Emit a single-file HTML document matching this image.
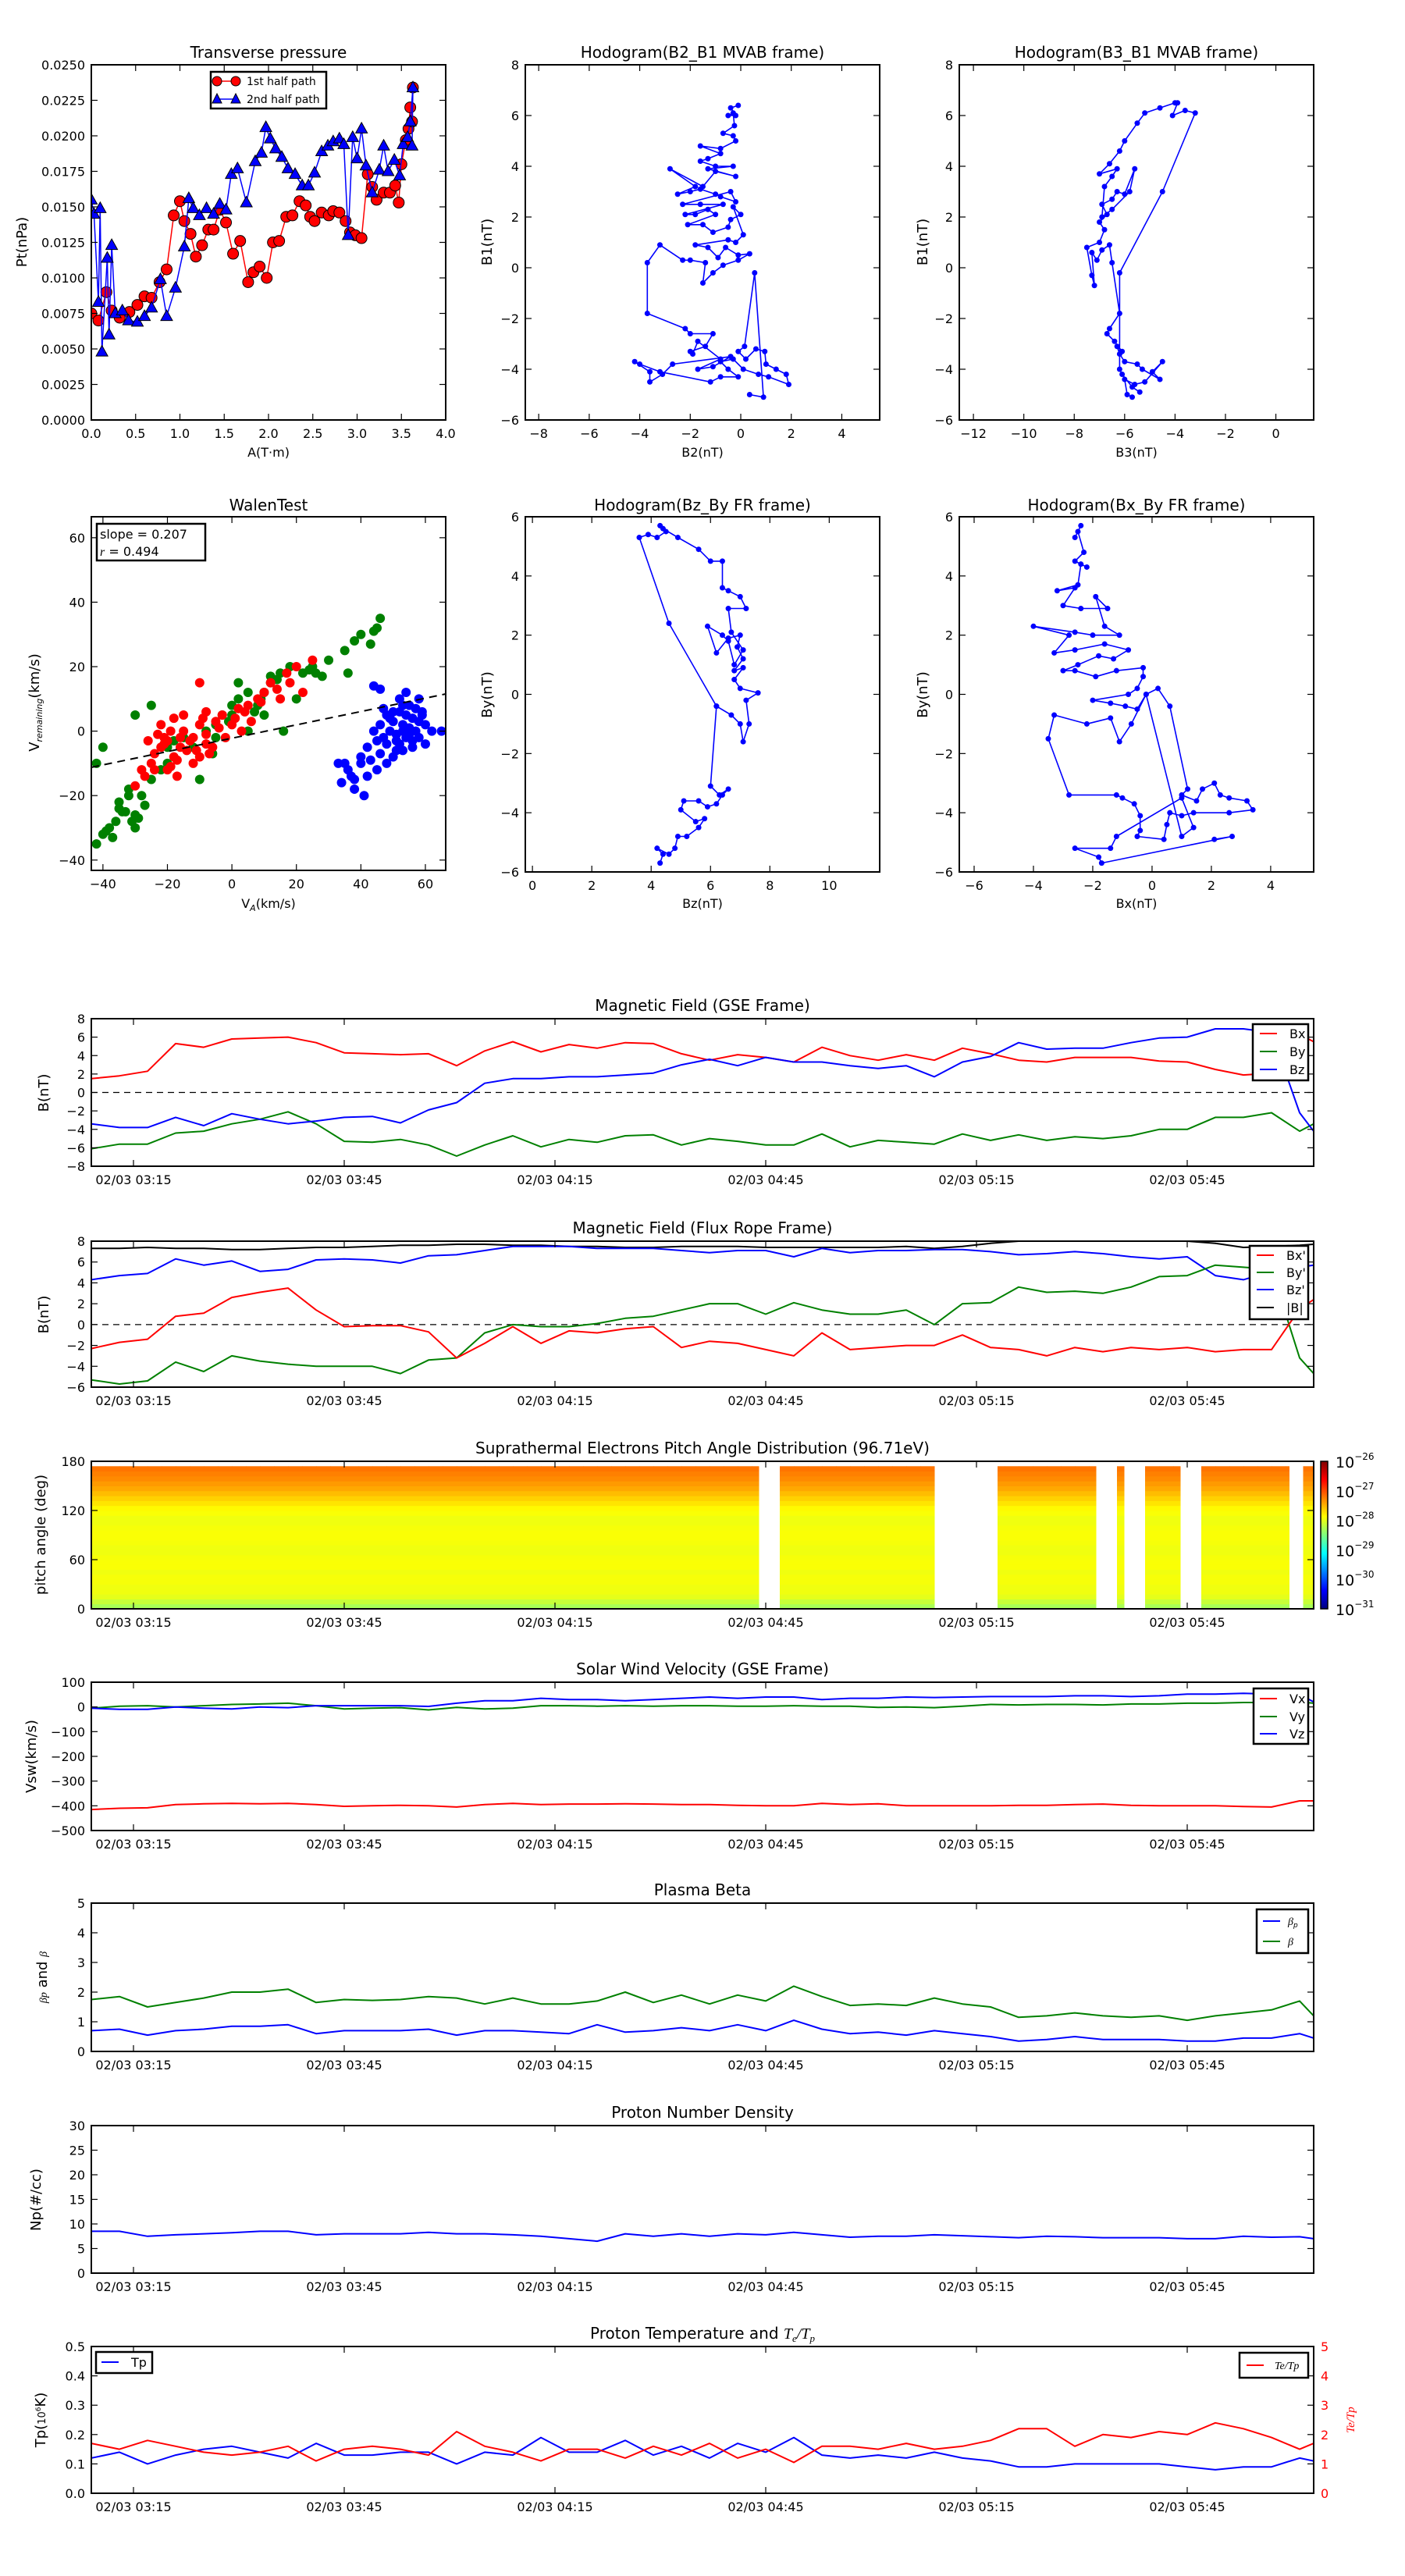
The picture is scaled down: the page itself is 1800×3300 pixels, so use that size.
<!DOCTYPE html>
<html><head><meta charset="utf-8"><title>Flux rope analysis</title>
<style>
html,body{margin:0;padding:0;background:#fff;}
svg{display:block;font-family:"DejaVu Sans","Liberation Sans",sans-serif;}
</style></head>
<body>
<svg id="fig" xmlns="http://www.w3.org/2000/svg" width="1800" height="3300" viewBox="0 0 1800 3300">
<rect x="0" y="0" width="1800" height="3300" fill="#fff"/>
<defs>
<linearGradient id="jetgrad" x1="0" y1="1" x2="0" y2="0">
<stop offset="0" stop-color="#00007f"/><stop offset="0.125" stop-color="#0000ff"/><stop offset="0.375" stop-color="#00ffff"/><stop offset="0.625" stop-color="#ffff00"/><stop offset="0.875" stop-color="#ff0000"/><stop offset="1" stop-color="#7f0000"/>
</linearGradient>
</defs>
</svg>
<script>
// ---------- Transverse pressure data ----------
const tpRedA=[0.0,0.08,0.17,0.23,0.32,0.43,0.52,0.6,0.68,0.77,0.85,0.93,1.0,1.05,1.12,1.18,1.25,1.32,1.38,1.45,1.52,1.6,1.68,1.77,1.83,1.9,1.98,2.05,2.12,2.2,2.27,2.35,2.42,2.47,2.52,2.6,2.68,2.73,2.8,2.87,2.92,2.98,3.05,3.12,3.17,3.22,3.3,3.37,3.43,3.47,3.5,3.55,3.58,3.6,3.62,3.63];
const tpRedP=[0.0075,0.0070,0.0090,0.0077,0.0072,0.0076,0.0081,0.0087,0.0086,0.0097,0.0106,0.0144,0.0154,0.0140,0.0131,0.0115,0.0123,0.0134,0.0134,0.0148,0.0139,0.0117,0.0126,0.0097,0.0104,0.0108,0.0100,0.0125,0.0126,0.0143,0.0144,0.0154,0.0151,0.0143,0.0140,0.0146,0.0144,0.0147,0.0146,0.0140,0.0132,0.0130,0.0128,0.0173,0.0164,0.0155,0.0160,0.0160,0.0165,0.0153,0.0180,0.0197,0.0205,0.0220,0.0210,0.0234];
const tpBlueA=[0.0,0.03,0.08,0.1,0.12,0.18,0.2,0.23,0.27,0.35,0.42,0.52,0.6,0.68,0.78,0.85,0.95,1.05,1.1,1.15,1.22,1.3,1.38,1.45,1.52,1.58,1.65,1.75,1.85,1.92,1.97,2.02,2.08,2.15,2.22,2.3,2.38,2.45,2.52,2.6,2.67,2.73,2.8,2.85,2.9,2.95,3.0,3.05,3.1,3.17,3.25,3.3,3.35,3.42,3.48,3.52,3.57,3.6,3.63,3.62];
const tpBlueP=[0.0155,0.0145,0.0083,0.0149,0.0048,0.0114,0.0060,0.0123,0.0075,0.0077,0.0070,0.0069,0.0073,0.0079,0.0099,0.0073,0.0093,0.0122,0.0156,0.0149,0.0144,0.0149,0.0145,0.0152,0.0148,0.0173,0.0177,0.0153,0.0182,0.0188,0.0206,0.0198,0.0191,0.0185,0.0177,0.0173,0.0165,0.0165,0.0174,0.0189,0.0193,0.0196,0.0198,0.0194,0.0130,0.0199,0.0184,0.0205,0.0179,0.0160,0.0176,0.0193,0.0175,0.0183,0.0172,0.0194,0.0199,0.0210,0.0234,0.0193];
// ---------- Hodogram MVAB ----------
const hB2=[-0.1,-0.4,-0.2,-0.5,-0.3,-0.25,-0.7,-0.3,-0.2,-0.8,-1.6,-0.8,-1.3,-1.6,-1.0,-0.3,-1.3,-0.2,-1.0,-1.5,-2.8,-1.8,-2.5,-2.0,-1.6,-1.0,-0.8,-0.2,-0.4,-2.3,-1.6,-0.7,-2.2,-1.8,-1.3,-1.0,-2.1,-1.5,-1.1,-0.5,-0.4,0.0,-0.3,0.1,-0.2,-0.5,-1.8,-1.3,-0.9,-0.6,-0.1,0.35,-0.1,-0.7,-1.1,-1.5,-1.4,-2.0,-2.3,-3.2,-3.7,-3.7,-2.2,-2.0,-1.1,-1.4,-2.0,-1.9,-1.7,-0.8,-1.7,-1.1,-0.4,-2.7,-3.1,-3.6,-3.6,-4.2,-4.0,-3.2,-1.2,-0.8,-0.1,-0.5,-0.8,-0.3,0.1,0.7,1.1,1.9,1.8,1.4,1.0,0.95,0.6,0.2,-0.1,0.15,0.55,0.9,0.35];
const hB1=[6.4,6.3,6.0,6.0,6.1,5.6,5.3,5.2,5.0,4.7,4.8,4.5,4.3,4.2,4.0,4.0,3.9,3.6,3.8,3.2,3.9,3.2,2.9,3.0,3.1,2.9,2.8,2.6,3.0,2.5,2.5,2.5,2.1,2.1,2.3,2.1,1.7,1.7,1.4,1.6,1.9,2.1,2.4,1.3,1.0,1.1,0.9,0.8,0.4,0.8,0.5,0.55,0.3,0.1,-0.2,-0.6,0.2,0.3,0.3,0.9,0.2,-1.8,-2.4,-2.6,-2.6,-3.1,-3.3,-3.4,-2.9,-3.6,-4.0,-3.9,-3.5,-3.8,-4.2,-4.5,-4.1,-3.7,-3.8,-4.1,-4.5,-4.3,-4.3,-4.0,-3.7,-3.6,-4.0,-4.2,-4.3,-4.6,-4.2,-4.0,-3.8,-3.3,-3.2,-3.6,-3.3,-3.1,-0.2,-5.1,-5.0];
const hB3=[-5.7,-5.9,-6.0,-5.6,-5.2,-4.5,-4.9,-4.6,-5.3,-5.5,-6.0,-6.2,-6.3,-6.1,-6.4,-6.7,-6.6,-6.2,-6.5,-6.6,-6.9,-7.1,-7.3,-7.2,-7.3,-7.5,-7.0,-6.8,-7.0,-6.7,-6.9,-6.5,-6.3,-6.0,-5.6,-5.8,-6.5,-6.9,-6.8,-6.5,-6.3,-7.0,-6.6,-6.2,-6.0,-5.5,-5.2,-4.6,-4.0,-3.9,-4.1,-3.6,-3.2,-4.5,-6.2,-6.2,-6.1,-5.7,-5.4];
const hB1b=[-5.1,-5.0,-4.4,-4.6,-4.5,-3.7,-4.1,-4.4,-4.0,-3.8,-3.7,-3.4,-3.1,-3.3,-2.9,-2.6,-2.4,-1.8,0.2,0.9,0.7,0.3,0.6,-0.7,-0.3,0.8,1.0,1.5,1.8,2.1,2.5,2.7,3.0,2.9,3.9,3.0,2.3,2.0,3.2,3.6,3.9,3.7,4.1,4.6,5.0,5.7,6.1,6.3,6.5,6.5,6.0,6.2,6.1,3.0,-0.2,-4.0,-4.2,-4.7,-4.9];
// ---------- Walen test ----------
const walenRedX=[-22,-20,-18,-15,-12,-10,-8,-5,-3,0,2,5,8,10,12,15,20,25,-25,-28,-20,-17,-22,-15,-10,-6,-2,3,-10,-8,-18,-26,-12,6,18,22,-14,-24,-19,-16,-21,-23,-17,-13,-11,-19,-21,-16,-8,-4,1,4,9,14,17,-30,-27,-24,-9,-7];
const walenRedY=[-5,-3,-8,0,-2,2,-4,3,5,2,7,8,10,12,15,10,20,22,-10,-12,-12,-14,2,5,-8,-5,-2,0,15,6,4,-3,-10,3,15,12,-6,-7,0,-2,-4,-1,-9,-3,-6,-11,-2,-5,-1,1,4,6,9,13,18,-17,-14,-12,4,-7];
const walenGreenX=[-42,-40,-38,-36,-35,-33,-32,-30,-28,-30,-27,-25,-22,-20,-18,-15,-12,-8,-5,-3,0,2,5,8,10,12,15,18,22,25,30,35,38,40,44,46,-40,-42,-25,-30,-20,-10,0,5,10,16,20,28,-5,2,-37,-34,-31,-29,-32,-35,-39,12,14,24,26,36,43,45,-6,-1,7,9];
const walenGreenY=[-35,-32,-30,-28,-22,-25,-18,-26,-20,-30,-23,-15,-12,-5,-3,-2,-5,0,2,5,8,10,12,8,12,15,18,20,18,20,22,25,28,30,31,35,-5,-10,8,5,-10,-15,5,0,5,0,10,17,-2,15,-33,-25,-28,-27,-20,-24,-31,17,16,19,18,18,27,32,-7,3,6,10];
const walenBlueX=[35,38,40,42,44,45,46,47,48,49,50,51,52,53,54,55,56,57,58,59,60,56,53,50,48,45,42,38,41,36,46,44,52,54,60,65,47,51,55,58,49,50,52,53,54,55,56,57,53,51,48,46,58,59,62,43,40,37,34,33];
const walenBlueY=[-10,-15,-8,-5,0,-3,2,-2,5,0,3,-3,6,2,-2,8,4,0,10,5,2,-5,-6,-8,-10,-12,-14,-18,-20,-12,13,14,10,12,-4,0,7,-1,1,-2,4,6,-4,8,5,-1,-3,7,0,-6,-4,-7,3,6,0,-9,-10,-14,-16,-10];
const walenSlope=0.207, walenIntercept=-2.2;
// ---------- FR hodograms ----------
const frBz=[4.3,4.4,4.2,4.6,4.8,4.9,5.2,5.6,5.8,5.5,5.0,5.1,5.6,5.9,6.2,6.4,6.6,6.3,6.0,6.2,6.7,7.0,7.1,7.3,7.2,7.6,7.0,6.8,7.1,6.8,7.1,6.9,7.0,6.6,6.2,5.9,6.4,6.6,6.8,7.1,6.7,6.6,7.2,7.0,6.6,6.4,6.4,6.0,5.6,4.9,4.4,4.3,4.5,4.2,3.9,3.6,4.6,6.2];
const frBy1=[-5.7,-5.4,-5.2,-5.4,-5.2,-4.8,-4.8,-4.5,-4.2,-4.3,-3.9,-3.6,-3.6,-3.8,-3.7,-3.4,-3.2,-3.4,-3.1,-0.4,-0.7,-1.0,-1.6,-1.0,-0.2,0.05,0.2,0.5,0.9,0.8,1.2,1.6,2.0,1.9,1.4,2.3,2.0,1.8,1.0,1.5,2.1,2.9,2.9,3.3,3.5,3.6,4.5,4.5,4.9,5.3,5.6,5.7,5.5,5.3,5.4,5.3,2.4,-0.4];
const frBx=[-2.4,-2.6,-2.5,-2.3,-2.6,-2.2,-2.4,-2.5,-3.2,-2.6,-3.0,-2.4,-1.5,-1.9,-1.6,-1.1,-2.0,-2.6,-4.0,-2.8,-3.3,-2.6,-1.6,-0.8,-1.3,-1.8,-2.5,-3.0,-2.6,-1.9,-1.2,-0.3,-0.3,-0.5,-0.8,-2.0,-1.4,-0.9,-0.5,-0.2,0.2,0.6,1.2,1.0,1.5,1.7,2.1,2.3,2.6,3.2,3.4,2.6,1.4,1.0,0.6,0.5,0.4,-0.5,-0.4,-0.4,-0.6,-1.0,-1.2,-2.8,-3.5,-3.3,-2.2,-1.4,-1.1,-0.7,-0.2,1.0,1.4,1.0,-1.2,-1.4,-2.6,-1.8,-1.7,2.7,2.1];
const frBy2=[5.7,5.3,5.5,4.8,4.5,4.3,4.4,3.7,3.5,3.6,3.0,2.9,2.9,3.3,2.3,2.0,2.0,2.1,2.3,2.0,1.4,1.5,1.7,1.5,1.2,1.3,1.0,0.8,0.8,0.6,0.8,0.9,0.6,0.2,0.0,-0.2,-0.3,-0.4,-0.5,0.0,0.2,-0.4,-3.2,-3.4,-3.6,-3.2,-3.0,-3.4,-3.5,-3.6,-3.9,-4.0,-4.0,-4.1,-4.0,-4.4,-4.9,-4.8,-4.6,-4.1,-3.7,-3.5,-3.4,-3.4,-1.5,-0.7,-1.0,-0.8,-1.6,-1.0,0.0,-4.8,-4.5,-3.5,-4.8,-5.2,-5.2,-5.5,-5.7,-4.8,-4.9];
// ---------- Time series (minutes after 03:09) ----------
const tGrid=[0,4,8,12,16,20,24,28,32,36,40,44,48,52,56,60,64,68,72,76,80,84,88,92,96,100,104,108,112,116,120,124,128,132,136,140,144,148,152,156,160,164,168,172,174];
const timeTickMin=[6,36,66,96,126,156];
const timeTickLabels=['02/03 03:15','02/03 03:45','02/03 04:15','02/03 04:45','02/03 05:15','02/03 05:45'];
const gseBx=[1.5,1.8,2.3,5.3,4.9,5.8,5.9,6.0,5.4,4.3,4.2,4.1,4.2,2.9,4.5,5.5,4.4,5.2,4.8,5.4,5.3,4.2,3.5,4.1,3.8,3.3,4.9,4.0,3.5,4.1,3.5,4.8,4.2,3.5,3.3,3.8,3.8,3.8,3.4,3.3,2.5,1.9,2.1,6.3,5.5];
const gseBy=[-6.1,-5.6,-5.6,-4.4,-4.2,-3.4,-2.9,-2.1,-3.4,-5.3,-5.4,-5.1,-5.7,-6.9,-5.7,-4.7,-5.9,-5.1,-5.4,-4.7,-4.6,-5.7,-5.0,-5.3,-5.7,-5.7,-4.5,-5.9,-5.2,-5.4,-5.6,-4.5,-5.2,-4.6,-5.2,-4.8,-5.0,-4.7,-4.0,-4.0,-2.7,-2.7,-2.2,-4.2,-3.4];
const gseBz=[-3.4,-3.8,-3.8,-2.7,-3.6,-2.3,-2.9,-3.4,-3.1,-2.7,-2.6,-3.3,-1.9,-1.1,1.0,1.5,1.5,1.7,1.7,1.9,2.1,3.0,3.6,2.9,3.8,3.3,3.3,2.9,2.6,2.9,1.7,3.3,3.9,5.4,4.7,4.8,4.8,5.4,5.9,6.0,6.9,6.9,6.5,-2.2,-4.2];
const frBxp=[-2.3,-1.7,-1.4,0.8,1.1,2.6,3.1,3.5,1.4,-0.2,-0.1,-0.1,-0.7,-3.2,-1.8,-0.2,-1.8,-0.6,-0.8,-0.4,-0.2,-2.2,-1.6,-1.8,-2.4,-3.0,-0.8,-2.4,-2.2,-2.0,-2.0,-1.0,-2.2,-2.4,-3.0,-2.2,-2.6,-2.2,-2.4,-2.2,-2.6,-2.4,-2.4,1.5,2.4];
const frByp=[-5.3,-5.7,-5.4,-3.6,-4.5,-3.0,-3.5,-3.8,-4.0,-4.0,-4.0,-4.7,-3.4,-3.2,-0.8,0.0,-0.2,-0.2,0.1,0.6,0.8,1.4,2.0,2.0,1.0,2.1,1.4,1.0,1.0,1.4,0.0,2.0,2.1,3.6,3.1,3.2,3.0,3.6,4.6,4.7,5.7,5.5,5.3,-3.2,-4.7];
const frBzp=[4.3,4.7,4.9,6.3,5.7,6.1,5.1,5.3,6.2,6.3,6.2,5.9,6.6,6.7,7.1,7.5,7.5,7.5,7.3,7.3,7.3,7.1,6.9,7.1,7.1,6.5,7.3,6.9,7.1,7.1,7.2,7.2,7.0,6.7,6.8,7.0,6.8,6.5,6.3,6.5,4.7,4.3,5.1,5.5,5.7];
const frBmag=[7.3,7.3,7.4,7.3,7.3,7.2,7.2,7.3,7.4,7.4,7.5,7.6,7.6,7.7,7.7,7.6,7.6,7.5,7.5,7.4,7.4,7.5,7.5,7.5,7.4,7.4,7.4,7.4,7.4,7.5,7.3,7.5,7.8,8.0,8.0,8.0,8.0,8.0,8.0,8.0,7.8,7.4,7.5,7.6,7.7];
const vswVx=[-415,-410,-408,-395,-392,-390,-392,-390,-395,-402,-400,-398,-400,-405,-395,-390,-395,-393,-393,-392,-393,-395,-395,-398,-400,-400,-390,-395,-392,-400,-400,-400,-400,-398,-398,-395,-393,-398,-400,-400,-400,-403,-405,-380,-380];
const vswVy=[-5,3,5,0,5,10,12,15,5,-8,-5,-3,-12,-2,-8,-5,5,5,3,5,3,5,5,3,3,5,3,3,-2,0,-3,3,10,8,10,10,8,12,12,15,15,18,18,20,15];
const vswVz=[-5,-10,-10,0,-5,-8,0,-3,5,5,5,5,2,15,25,25,35,30,30,25,30,35,40,35,40,40,30,35,35,40,38,40,42,42,42,45,45,42,45,52,52,55,52,50,20];
const betaP=[0.7,0.75,0.55,0.7,0.75,0.85,0.85,0.9,0.6,0.7,0.7,0.7,0.75,0.55,0.7,0.7,0.65,0.6,0.9,0.65,0.7,0.8,0.7,0.9,0.7,1.05,0.75,0.6,0.65,0.55,0.7,0.6,0.5,0.35,0.4,0.5,0.4,0.4,0.4,0.35,0.35,0.45,0.45,0.6,0.45];
const betaTot=[1.75,1.85,1.5,1.65,1.8,2.0,2.0,2.1,1.65,1.75,1.72,1.75,1.85,1.8,1.6,1.8,1.6,1.6,1.7,2.0,1.65,1.9,1.6,1.9,1.7,2.2,1.85,1.55,1.6,1.55,1.8,1.6,1.5,1.15,1.2,1.3,1.2,1.15,1.2,1.05,1.2,1.3,1.4,1.7,1.2];
const npDensity=[8.5,8.5,7.5,7.8,8.0,8.2,8.5,8.5,7.8,8.0,8.0,8.0,8.3,8.0,8.0,7.8,7.5,7.0,6.5,8.0,7.5,8.0,7.5,8.0,7.8,8.3,7.8,7.3,7.5,7.5,7.8,7.6,7.4,7.2,7.5,7.4,7.2,7.2,7.2,7.0,7.0,7.5,7.3,7.4,7.0];
const tpTemp=[0.12,0.14,0.10,0.13,0.15,0.16,0.14,0.12,0.17,0.13,0.13,0.14,0.14,0.10,0.14,0.13,0.19,0.14,0.14,0.18,0.13,0.16,0.12,0.17,0.14,0.19,0.13,0.12,0.13,0.12,0.14,0.12,0.11,0.09,0.09,0.10,0.10,0.10,0.10,0.09,0.08,0.09,0.09,0.12,0.11];
const teTpRatio=[1.7,1.5,1.8,1.6,1.4,1.3,1.4,1.6,1.1,1.5,1.6,1.5,1.3,2.1,1.6,1.4,1.1,1.5,1.5,1.2,1.6,1.3,1.7,1.2,1.5,1.05,1.6,1.6,1.5,1.7,1.5,1.6,1.8,2.2,2.2,1.6,2.0,1.9,2.1,2.0,2.4,2.2,1.9,1.5,1.7];
// ---------- Pitch angle distribution ----------
const padSegments=[[0,95],[98,120],[129,143],[146,147],[150,155],[158,170.5],[172.5,174]];
const padProfile=[-28.3,-28.15,-28.0,-27.95,-27.95,-27.92,-27.92,-27.95,-27.9,-27.9,-27.92,-27.95,-27.95,-27.92,-27.9,-27.9,-27.92,-27.95,-27.95,-27.9,-27.85,-27.75,-27.65,-27.55,-27.45,-27.38,-27.3,-27.25,-27.2,null];
const padColMinutes=2;
const cbTicks=[-26,-27,-28,-29,-30,-31];

// ---------- helpers ----------
const NS='http://www.w3.org/2000/svg';
const svg=document.getElementById('fig');
let clipId=0;
function mk(tag,attrs,parent){const e=document.createElementNS(NS,tag);for(const k in attrs)e.setAttribute(k,attrs[k]);(parent||svg).appendChild(e);return e;}
function axes(x0,x1,y0,y1,xmin,xmax,ymin,ymax){
  const a={x0,x1,y0,y1,xmin,xmax,ymin,ymax};
  a.X=v=>x0+(v-xmin)/(xmax-xmin)*(x1-x0);
  a.Y=v=>y1-(v-ymin)/(ymax-ymin)*(y1-y0);
  clipId++;
  const cp=mk('clipPath',{id:'clip'+clipId});
  mk('rect',{x:x0,y:y0,width:x1-x0,height:y1-y0},cp);
  a.g=mk('g',{'clip-path':'url(#clip'+clipId+')'});
  
  
  return a;
}
function txt(x,y,s,size,anchor,name,extra){
  const t=mk('text',Object.assign({x:x,y:y,'font-size':size,'text-anchor':anchor||'middle',fill:'#000'},extra||{}));
  t.textContent=s;
  
  
  return t;
}
function frame(a,name){
  const r=mk('rect',{x:a.x0,y:a.y0,width:a.x1-a.x0,height:a.y1-a.y0,fill:'none',stroke:'#000','stroke-width':2});
  
  
}
function xTicks(a,vals,labels,name){
  vals.forEach((v,i)=>{
    const x=a.X(v);
    const t1=mk('line',{x1:x,x2:x,y1:a.y1,y2:a.y1-8,stroke:'#000','stroke-width':1.2});
    
    
    const t2=mk('line',{x1:x,x2:x,y1:a.y0,y2:a.y0+8,stroke:'#000','stroke-width':1.2});
    
    
    txt(x,a.y1+23,labels[i],16,'middle',name+'-label');
  });
}
function yTicks(a,vals,labels,name,noRight){
  vals.forEach((v,i)=>{
    const y=a.Y(v);
    const t1=mk('line',{x1:a.x0,x2:a.x0+8,y1:y,y2:y,stroke:'#000','stroke-width':1.2});
    
    
    if(!noRight){
      const t2=mk('line',{x1:a.x1,x2:a.x1-8,y1:y,y2:y,stroke:'#000','stroke-width':1.2});
      
      
    }
    txt(a.x0-8,y+6,labels[i],16,'end',name+'-label');
  });
}
function fmt(v,d){const s=Math.abs(v).toFixed(d);return (v<0?'\u2212':'')+s;}
function range(a,b,s){const r=[];for(let v=a;v<=b+1e-9;v+=s)r.push(+v.toFixed(6));return r;}
function series(a,xs,ys,color,name,w,dots){
  const pts=xs.map((x,i)=>a.X(x).toFixed(1)+','+a.Y(ys[i]).toFixed(1)).join(' ');
  const pl=mk('polyline',{points:pts,fill:'none',stroke:color,'stroke-width':w||2,'stroke-linejoin':'round'},a.g);
  
  
  if(dots){
    xs.forEach((x,i)=>{
      const c=mk('circle',{cx:a.X(x),cy:a.Y(ys[i]),r:dots,fill:color},a.g);
      
      
    });
  }
}
function ylabel(x,y,s,name,color){
  const t=txt(x,y,s,18,'middle',name,{transform:'rotate(-90 '+x+' '+y+')',fill:color||'#000'});
  return t;
}
function legendBox(x,y,w,h,name){
  const r=mk('rect',{x:x,y:y,width:w,height:h,fill:'#fff',stroke:'#000','stroke-width':2.5});
  
  
}
function legendEntry(x,y,color,label,name){
  const l=mk('line',{x1:x,x2:x+22,y1:y,y2:y,stroke:color,'stroke-width':2});
  
  
  txt(x+38,y+6,label,16,'start',name);
}

// ================= Transverse pressure =================
(function(){
  const a=axes(117,571,83,538,0,4,0,0.025);
  const xt=range(0,4,0.5), yt=range(0,0.025,0.0025);
  xTicks(a,xt,xt.map(v=>v.toFixed(1)),'tp-x');
  yTicks(a,yt,yt.map(v=>v.toFixed(4)),'tp-y');
  series(a,tpRedA,tpRedP,'#ff0000','first-half-path',1.5);
  tpRedA.forEach((x,i)=>{
    const c=mk('circle',{cx:a.X(x),cy:a.Y(tpRedP[i]),r:7,fill:'#ff0000',stroke:'#000','stroke-width':1},a.g);
    
    
  });
  series(a,tpBlueA,tpBlueP,'#0000ff','second-half-path',1.5);
  tpBlueA.forEach((x,i)=>{
    const cx=a.X(x), cy=a.Y(tpBlueP[i]);
    const p=mk('polygon',{points:cx+','+(cy-8)+' '+(cx-7.5)+','+(cy+5.5)+' '+(cx+7.5)+','+(cy+5.5),fill:'#0000ff',stroke:'#000','stroke-width':1},a.g);
    
    
  });
  frame(a,'tp-frame');
  txt(344,74,'Transverse pressure',20,'middle','tp-title');
  txt(344,585,'A(T\u00b7m)',16,'middle','tp-x-title');
  ylabel(34,310,'Pt(nPa)','tp-y-title');
  legendBox(270,92,148,47,'tp-legend');
  const l1=mk('line',{x1:278,x2:302,y1:104,y2:104,stroke:'#ff0000','stroke-width':1.5});
  
  
  [278,302].forEach(cx=>{const c=mk('circle',{cx:cx,cy:104,r:6,fill:'#ff0000',stroke:'#000'});
    
    });
  txt(316,109,'1st half path',14,'start','legend-first-label');
  const l2=mk('line',{x1:278,x2:302,y1:127,y2:127,stroke:'#0000ff','stroke-width':1.5});
  
  
  [278,302].forEach(cx=>{const p=mk('polygon',{points:cx+',120 '+(cx-6)+',132 '+(cx+6)+',132',fill:'#0000ff',stroke:'#000'});
    
    });
  txt(316,132,'2nd half path',14,'start','legend-second-label');
})();

// ================= Hodogram B2_B1 =================
(function(){
  const a=axes(673,1127,83,538,-8.53,5.5,-6,8);
  const xt=range(-8,4,2), yt=range(-6,8,2);
  xTicks(a,xt,xt.map(v=>fmt(v,0)),'hod1-x');
  yTicks(a,yt,yt.map(v=>fmt(v,0)),'hod1-y');
  series(a,hB2,hB1,'#0000ff','hodogram-b2-b1',1.6,3.5);
  frame(a,'hod1-frame');
  txt(900,74,'Hodogram(B2_B1 MVAB frame)',20,'middle','hod1-title');
  txt(900,585,'B2(nT)',16,'middle','hod1-x-title');
  ylabel(630,310,'B1(nT)','hod1-y-title');
})();

// ================= Hodogram B3_B1 =================
(function(){
  const a=axes(1229,1683,83,538,-12.56,1.5,-6,8);
  const xt=range(-12,0,2), yt=range(-6,8,2);
  xTicks(a,xt,xt.map(v=>fmt(v,0)),'hod2-x');
  yTicks(a,yt,yt.map(v=>fmt(v,0)),'hod2-y');
  series(a,hB3,hB1b,'#0000ff','hodogram-b3-b1',1.6,3.5);
  frame(a,'hod2-frame');
  txt(1456,74,'Hodogram(B3_B1 MVAB frame)',20,'middle','hod2-title');
  txt(1456,585,'B3(nT)',16,'middle','hod2-x-title');
  ylabel(1188,310,'B1(nT)','hod2-y-title');
})();

// ================= Walen test =================
(function(){
  const a=axes(117,571,662,1115,-43.6,66.3,-43.2,66.5);
  const xt=range(-40,60,20), yt=range(-40,60,20);
  xTicks(a,xt,xt.map(v=>fmt(v,0)),'walen-x');
  yTicks(a,yt,yt.map(v=>fmt(v,0)),'walen-y');
  function pts(xs,ys,color,name){
    xs.forEach((x,i)=>{
      const c=mk('circle',{cx:a.X(x),cy:a.Y(ys[i]),r:6,fill:color},a.g);
      
      
    });
  }
  pts(walenGreenX,walenGreenY,'#008000','walen-point-green');
  pts(walenRedX,walenRedY,'#ff0000','walen-point-red');
  pts(walenBlueX,walenBlueY,'#0000ff','walen-point-blue');
  const fl=mk('line',{x1:a.X(a.xmin),y1:a.Y(walenSlope*a.xmin+walenIntercept),x2:a.X(a.xmax),y2:a.Y(walenSlope*a.xmax+walenIntercept),stroke:'#000','stroke-width':2,'stroke-dasharray':'10,7'},a.g);
  
  
  frame(a,'walen-frame');
  legendBox(124,671,139,47,'walen-stats-box');
  txt(128,690,'slope = 0.207',16,'start','walen-slope-text');
  const rt=txt(128,712,'',16,'start','walen-r-text');
  rt.innerHTML='<tspan font-style="italic" font-family="Liberation Serif, serif">r</tspan> = 0.494';
  txt(344,654,'WalenTest',20,'middle','walen-title');
  const xl=txt(344,1163,'',16,'middle','walen-x-title');
  xl.innerHTML='V<tspan font-size="11" dy="4" font-style="italic">A</tspan><tspan dy="-4">(km/s)</tspan>';
  const yl=ylabel(50,900,'','walen-y-title');
  yl.innerHTML='V<tspan font-size="11" dy="4" font-style="italic">remaining</tspan><tspan dy="-4">(km/s)</tspan>';
})();

// ================= Hodogram Bz_By FR =================
(function(){
  const a=axes(673,1127,662,1117,-0.24,11.7,-6,6);
  const xt=range(0,10,2), yt=range(-6,6,2);
  xTicks(a,xt,xt.map(v=>fmt(v,0)),'hod3-x');
  yTicks(a,yt,yt.map(v=>fmt(v,0)),'hod3-y');
  series(a,frBz,frBy1,'#0000ff','hodogram-bz-by',1.6,3.5);
  frame(a,'hod3-frame');
  txt(900,654,'Hodogram(Bz_By FR frame)',20,'middle','hod3-title');
  txt(900,1163,'Bz(nT)',16,'middle','hod3-x-title');
  ylabel(630,890,'By(nT)','hod3-y-title');
})();

// ================= Hodogram Bx_By FR =================
(function(){
  const a=axes(1229,1683,662,1117,-6.5,5.45,-6,6);
  const xt=range(-6,4,2), yt=range(-6,6,2);
  xTicks(a,xt,xt.map(v=>fmt(v,0)),'hod4-x');
  yTicks(a,yt,yt.map(v=>fmt(v,0)),'hod4-y');
  series(a,frBx,frBy2,'#0000ff','hodogram-bx-by',1.6,3.5);
  frame(a,'hod4-frame');
  txt(1456,654,'Hodogram(Bx_By FR frame)',20,'middle','hod4-title');
  txt(1456,1163,'Bx(nT)',16,'middle','hod4-x-title');
  ylabel(1188,890,'By(nT)','hod4-y-title');
})();

// ================= time panels =================
function timePanel(y0,y1,ymin,ymax,yt,ylabs,title,ylab,name,x1){
  const a=axes(117,x1||1683,y0,y1,0,174,ymin,ymax);
  xTicks(a,timeTickMin,timeTickLabels,name+'-x');
  yTicks(a,yt,ylabs,name+'-y');
  txt((117+(x1||1683))/2,y0-10,title,20,'middle',name+'-title');
  return a;
}
function zeroLine(a,name){
  const l=mk('line',{x1:a.x0,x2:a.x1,y1:a.Y(0),y2:a.Y(0),stroke:'#000','stroke-width':1.3,'stroke-dasharray':'8,6'},a.g);
  
  
}

// GSE
(function(){
  const yt=range(-8,8,2);
  const a=timePanel(1305,1494,-8,8,yt,yt.map(v=>fmt(v,0)),'Magnetic Field (GSE Frame)','B(nT)','gse');
  zeroLine(a,'gse-zero-line');
  series(a,tGrid,gseBx,'#ff0000','gse-bx-line');
  series(a,tGrid,gseBy,'#008000','gse-by-line');
  series(a,tGrid,gseBz,'#0000ff','gse-bz-line');
  frame(a,'gse-frame');
  ylabel(62,1400,'B(nT)','gse-y-title');
  legendBox(1605,1312,71,72,'gse-legend');
  legendEntry(1614,1324,'#ff0000','Bx','legend-bx');
  legendEntry(1614,1347,'#008000','By','legend-by');
  legendEntry(1614,1370,'#0000ff','Bz','legend-bz');
})();

// Flux rope frame
(function(){
  const yt=range(-6,8,2);
  const a=timePanel(1590,1777,-6,8,yt,yt.map(v=>fmt(v,0)),'Magnetic Field (Flux Rope Frame)','B(nT)','fr');
  zeroLine(a,'fr-zero-line');
  series(a,tGrid,frBmag,'#000000','fr-bmag-line');
  series(a,tGrid,frBzp,'#0000ff','fr-bz-line');
  series(a,tGrid,frByp,'#008000','fr-by-line');
  series(a,tGrid,frBxp,'#ff0000','fr-bx-line');
  frame(a,'fr-frame');
  ylabel(62,1684,'B(nT)','fr-y-title');
  legendBox(1601,1596,75,94,'fr-legend');
  legendEntry(1610,1608,'#ff0000',"Bx'",'legend-bxp');
  legendEntry(1610,1630,'#008000',"By'",'legend-byp');
  legendEntry(1610,1652,'#0000ff',"Bz'",'legend-bzp');
  legendEntry(1610,1675,'#000000','|B|','legend-bmag');
})();

// PAD
function jet(v){
  const f=Math.max(0,Math.min(1,(v+31)/5));
  const cl=x=>Math.round(255*Math.max(0,Math.min(1,x)));
  return 'rgb('+cl(1.5-Math.abs(4*f-3))+','+cl(1.5-Math.abs(4*f-2))+','+cl(1.5-Math.abs(4*f-1))+')';
}
(function(){
  const a=axes(117,1683,1872,2061,0,174,0,180);
  const nCols=Math.ceil(174/padColMinutes), nRows=padProfile.length, dp=180/nRows;
  for(let c=0;c<nCols;c++){
    const t0=c*padColMinutes, t1=Math.min(174,t0+padColMinutes);
    padSegments.forEach(seg=>{
      const s=Math.max(t0,seg[0]), e=Math.min(t1,seg[1]);
      if(e<=s)return;
      for(let r=0;r<nRows;r++){
        if(padProfile[r]===null)continue;
        const cell=mk('rect',{x:a.X(s),y:a.Y((r+1)*dp),width:a.X(e)-a.X(s)+0.5,height:a.Y(r*dp)-a.Y((r+1)*dp)+0.5,fill:jet(padProfile[r])},a.g);
        
        
      }
    });
  }
  xTicks(a,timeTickMin,timeTickLabels,'pad-x');
  const yt=[0,60,120,180];
  yTicks(a,yt,yt.map(String),'pad-y');
  frame(a,'pad-frame');
  txt(900,1862,'Suprathermal Electrons Pitch Angle Distribution (96.71eV)',20,'middle','pad-title');
  ylabel(58,1966,'pitch angle (deg)','pad-y-title');
  const cb=mk('rect',{x:1692,y:1872,width:9,height:189,fill:'url(#jetgrad)',stroke:'#000','stroke-width':1.5});
  
  
  cbTicks.forEach(v=>{
    const y=1872+(-26-v)/5*189;
    const tk=txt(1711,y+8,'',19,'start','colorbar-label');
    tk.innerHTML='10<tspan font-size="12" dy="-10">'+fmt(v,0)+'</tspan>';
  });
})();

// Solar wind velocity
(function(){
  const yt=range(-500,100,100);
  const a=timePanel(2155,2345,-500,100,yt,yt.map(v=>fmt(v,0)),'Solar Wind Velocity (GSE Frame)','Vsw','vsw');
  series(a,tGrid,vswVx,'#ff0000','vsw-vx-line');
  series(a,tGrid,vswVy,'#008000','vsw-vy-line');
  series(a,tGrid,vswVz,'#0000ff','vsw-vz-line');
  frame(a,'vsw-frame');
  ylabel(46,2250,'Vsw(km/s)','vsw-y-title');
  legendBox(1606,2163,70,71,'vsw-legend');
  legendEntry(1614,2176,'#ff0000','Vx','legend-vx');
  legendEntry(1614,2199,'#008000','Vy','legend-vy');
  legendEntry(1614,2221,'#0000ff','Vz','legend-vz');
})();

// Plasma beta
(function(){
  const yt=range(0,5,1);
  const a=timePanel(2438,2628,0,5,yt,yt.map(String),'Plasma Beta','beta','beta');
  series(a,tGrid,betaTot,'#008000','beta-total-line');
  series(a,tGrid,betaP,'#0000ff','beta-proton-line');
  frame(a,'beta-frame');
  const yl=ylabel(60,2533,'','beta-y-title');
  yl.innerHTML='<tspan font-style="italic" font-family="Liberation Serif, serif" font-size="14">\u03b2p</tspan> and <tspan font-style="italic" font-family="Liberation Serif, serif" font-size="14">\u03b2</tspan>';
  legendBox(1610,2446,66,56,'beta-legend');
  legendEntry(1618,2461,'#0000ff','','legend-betap');
  const l1=txt(1650,2466,'',14,'start','legend-betap-label');
  l1.innerHTML='<tspan font-style="italic" font-family="Liberation Serif, serif">\u03b2</tspan><tspan font-size="9" dy="3" font-style="italic">p</tspan>';
  legendEntry(1618,2487,'#008000','','legend-beta');
  txt(1650,2492,'\u03b2',14,'start','legend-beta-label',{'font-style':'italic','font-family':'Liberation Serif, serif'});
})();

// Proton density
(function(){
  const yt=range(0,30,5);
  const a=timePanel(2723,2912,0,30,yt,yt.map(String),'Proton Number Density','Np','np');
  series(a,tGrid,npDensity,'#0000ff','np-line');
  frame(a,'np-frame');
  ylabel(52,2818,'Np(#/cc)','np-y-title');
})();

// Proton temperature
(function(){
  const yt=range(0,0.5,0.1);
  const a=timePanel(3006,3194,0,0.5,yt,yt.map(v=>v.toFixed(1)),'','Tp','temp');
  txt(900,2996,'',20,'middle','temp-title').innerHTML='Proton Temperature and <tspan font-style="italic" font-family="Liberation Serif, serif">T</tspan><tspan font-size="13" dy="4" font-style="italic" font-family="Liberation Serif, serif">e</tspan><tspan dy="-4" font-style="italic" font-family="Liberation Serif, serif">/T</tspan><tspan font-size="13" dy="4" font-style="italic" font-family="Liberation Serif, serif">p</tspan>';
  const b=axes(117,1683,3006,3194,0,174,0,5);
  series(b,tGrid,teTpRatio,'#ff0000','te-tp-ratio-line');
  series(a,tGrid,tpTemp,'#0000ff','tp-line');
  range(0,5,1).forEach(v=>{
    txt(1692,b.Y(v)+6,String(v),16,'start','te-tp-axis-label',{fill:'#ff0000'});
  });
  frame(a,'temp-frame');
  const yl=ylabel(58,3100,'','temp-y-title');
  yl.innerHTML='Tp(<tspan font-size="13">10</tspan><tspan font-size="9" dy="-6">6</tspan><tspan dy="6">K)</tspan>';
  const yr=ylabel(1735,3100,'Te/Tp','te-tp-y-title','#ff0000');
  yr.setAttribute('font-style','italic');
  yr.setAttribute('font-family','Liberation Serif, serif');
  yr.setAttribute('font-size','15');
  legendBox(123,3013,72,27,'tp-legend-box');
  legendEntry(130,3026,'#0000ff','Tp','legend-tp');
  legendBox(1588,3014,88,32,'te-tp-legend-box');
  legendEntry(1597,3030,'#ff0000','','legend-te-tp');
  txt(1633,3035,'Te/Tp',14,'start','legend-te-tp-label',{'font-style':'italic','font-family':'Liberation Serif, serif'});
})();
</script>
</body></html>
